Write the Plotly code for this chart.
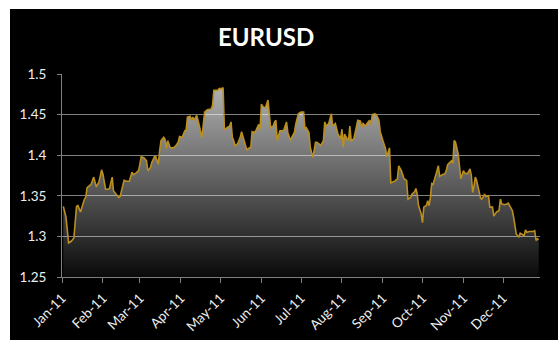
import pandas as pd
import plotly.graph_objects as go

# EURUSD 2011 - day of year (0 = 1 Jan 2011) and rate
day_of_year = [
    1, 3, 5, 7, 9, 11, 12, 14, 17, 18, 19, 21, 22, 24, 26, 28, 30, 31, 33, 35,
    36, 38, 39, 41, 43, 44, 47, 49, 51, 53, 54, 56, 58, 59, 60, 62, 64, 65, 67, 68,
    70, 71, 73, 74, 75, 77, 78, 79, 80, 82, 84, 86, 88, 89, 91, 93, 94, 95, 97, 98,
    99, 100, 102, 103, 105, 106, 108, 110, 113, 114, 115, 116, 118, 119, 121, 122,
    123, 125, 127, 128, 129, 130, 131, 133, 135, 136, 138, 140, 141, 143, 144, 146,
    147, 149, 150, 151, 152, 154, 156, 157, 158, 160, 161, 162, 163, 165, 167, 168,
    170, 171, 173, 174, 176, 177, 179, 181, 183, 184, 185, 187, 188, 190, 192, 193,
    195, 196, 198, 199, 200, 202, 204, 205, 207, 208, 209, 211, 212, 213, 214, 216,
    217, 218, 219, 221, 222, 224, 226, 227, 228, 230, 231, 233, 234, 235, 237, 238,
    240, 241, 243, 245,
    246, 248, 249, 251, 252, 254, 255, 257, 258, 259, 261, 262, 264, 265, 267, 268,
    269, 270, 272, 273, 274, 276, 277, 278, 279, 280, 281, 283, 284, 285, 286, 288,
    290, 291, 292, 293, 295, 296, 297, 298, 300, 301, 302, 304, 305, 307, 309, 310,
    311, 312, 313, 314, 315, 317, 318, 320, 321, 323, 324, 326, 327, 328, 329, 331,
    332, 333, 335, 337, 338, 339, 341, 342, 343, 344, 346, 347, 349, 350, 351, 352,
    354, 357, 358, 359, 360, 361,
]
eurusd = [
    1.337, 1.324, 1.292, 1.294, 1.298, 1.337, 1.338, 1.330, 1.346, 1.348, 1.360, 1.362, 1.364, 1.373, 1.361, 1.367, 1.382, 1.377, 1.358, 1.358,
    1.359, 1.373, 1.356, 1.352, 1.348, 1.349, 1.369, 1.368, 1.368, 1.379, 1.376, 1.378, 1.381, 1.389, 1.398, 1.397, 1.393, 1.381, 1.385, 1.391,
    1.398, 1.398, 1.389, 1.406, 1.418, 1.422, 1.420, 1.408, 1.418, 1.409, 1.409, 1.411, 1.416, 1.423, 1.422, 1.430, 1.431, 1.447, 1.448, 1.443,
    1.447, 1.443, 1.449, 1.443, 1.428, 1.422, 1.453, 1.456, 1.457, 1.461, 1.480, 1.480, 1.480, 1.482, 1.482, 1.483,
    1.431, 1.434, 1.436, 1.441, 1.422, 1.418, 1.412, 1.414, 1.422, 1.429, 1.416, 1.406, 1.408, 1.410, 1.429, 1.428,
    1.431, 1.438, 1.432, 1.463, 1.460, 1.458, 1.468, 1.453, 1.434, 1.436, 1.441, 1.443, 1.418, 1.430, 1.430, 1.431,
    1.441, 1.428, 1.418, 1.422, 1.428, 1.438, 1.451, 1.453, 1.453, 1.432, 1.434, 1.428, 1.410, 1.397, 1.416, 1.416,
    1.414, 1.412, 1.418, 1.441, 1.436, 1.439, 1.451, 1.436, 1.439, 1.432, 1.426, 1.420, 1.432, 1.410, 1.426, 1.420,
    1.418, 1.436, 1.418, 1.420, 1.428, 1.443, 1.442, 1.434, 1.439, 1.436, 1.439, 1.443, 1.437, 1.450, 1.451, 1.450,
    1.443, 1.429, 1.418, 1.408,
    1.398, 1.409, 1.366, 1.367, 1.368, 1.371, 1.387, 1.381, 1.375, 1.371, 1.369, 1.346, 1.348, 1.352, 1.355, 1.359,
    1.352, 1.338, 1.328, 1.317, 1.336, 1.338, 1.344, 1.338, 1.348, 1.365, 1.364, 1.378, 1.381, 1.387, 1.374, 1.376,
    1.377, 1.381, 1.388, 1.390, 1.393, 1.390, 1.418, 1.416, 1.402, 1.387, 1.371, 1.381, 1.378, 1.377, 1.383, 1.375,
    1.354, 1.362, 1.373, 1.369, 1.362, 1.347, 1.346, 1.352, 1.349, 1.350, 1.336, 1.336, 1.325, 1.328, 1.330, 1.332,
    1.346, 1.340, 1.339, 1.340, 1.341, 1.338, 1.332, 1.324, 1.313, 1.303, 1.299, 1.304, 1.302, 1.301, 1.308, 1.305,
    1.306, 1.306, 1.307, 1.295, 1.297, 1.296,
]
title_text = "EURUSD"

dates = pd.Timestamp("2011-01-01") + pd.to_timedelta(day_of_year, unit="D")

W, H = 558, 340
ML, MR, MT, MB = 62, 18, 74, 63
PW, PH = W - ML - MR, H - MT - MB

FONT = "Lato, 'Open Sans', sans-serif"
GRID = "#808080"

fig = go.Figure()
fig.add_trace(go.Scatter(
    x=dates, y=eurusd, mode="lines",
    line=dict(color="#bb8f1e", width=1.6),
    fill="tozeroy",
    fillgradient=dict(
        type="vertical",
        colorscale=[[0, "rgba(255,255,255,0.04)"], [1, "rgba(255,255,255,0.70)"]],
        start=1.25, stop=1.485,
    ),
    hoverinfo="skip",
))

# black chart background box
fig.add_shape(
    type="rect", xref="paper", yref="paper",
    x0=(10 - ML) / PW, x1=1.2, y0=-0.5, y1=(H - MB - 9) / PH,
    fillcolor="black", line=dict(width=0), layer="below",
)

fig.add_annotation(
    text="<b>" + title_text + "</b>", xref="paper", yref="paper",
    x=(265.5 - ML) / PW, y=(H - MB - 37) / PH,
    xanchor="center", yanchor="middle", showarrow=False,
    font=dict(family=FONT, size=24, color="white"),
)

fig.update_layout(
    width=W, height=H,
    margin=dict(l=ML, r=MR, t=MT, b=MB, pad=0, autoexpand=False),
    paper_bgcolor="white", plot_bgcolor="rgba(0,0,0,0)",
    showlegend=False,
    font=dict(family=FONT, size=13.5, color="#eeeeee"),
)
fig.update_yaxes(
    range=[1.25, 1.5], tick0=1.25, dtick=0.05,
    showgrid=True, gridcolor=GRID, gridwidth=1,
    showline=True, linecolor=GRID, linewidth=1,
    ticks="outside", ticklen=4, tickcolor=GRID,
    ticklabelstandoff=8, automargin=False,
    zeroline=False,
    tickfont=dict(family=FONT, size=13.5, color="#eeeeee"),
)
fig.update_xaxes(
    type="date", range=["2011-01-01", "2011-12-29"],
    tick0="2011-01-01", dtick="M1", tickformat="%b-%y", tickangle=-45,
    showgrid=False, showline=True, linecolor=GRID, linewidth=1,
    ticks="outside", ticklen=5, tickcolor=GRID,
    ticklabelstandoff=2, automargin=False,
    zeroline=False,
    tickfont=dict(family=FONT, size=13.5, color="#eeeeee"),
)

fig.write_html("out.html")
